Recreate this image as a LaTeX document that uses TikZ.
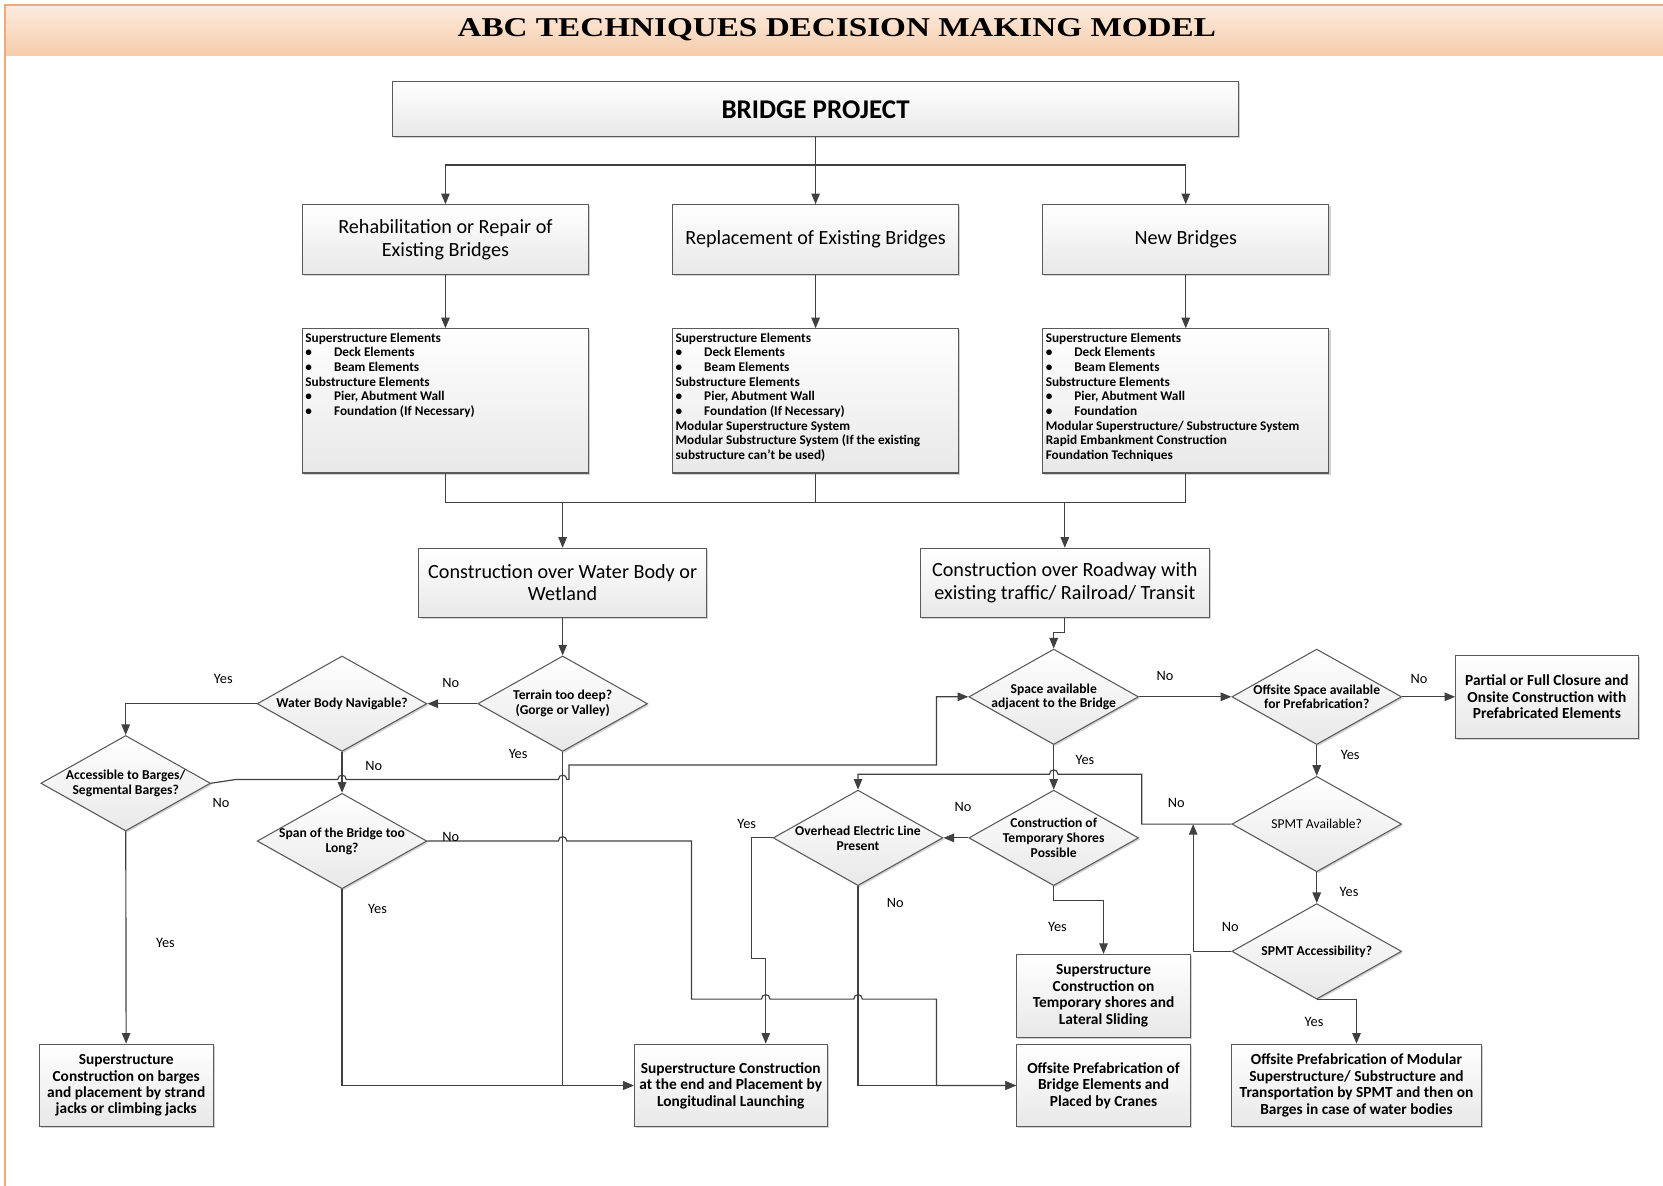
\documentclass[tikz,border=0pt]{standalone}
\usepackage{graphicx}
\usepackage{fontspec}
\setmainfont{Carlito}
\newfontfamily\titlefont{Liberation Serif}
\usetikzlibrary{shapes.geometric}
\usetikzlibrary{arrows.meta}
\usetikzlibrary{shadows}
\definecolor{linegray}{HTML}{404040}
\definecolor{boxgray}{HTML}{5A5A5A}
\definecolor{bandtop}{HTML}{FCEBDF}
\definecolor{bandbot}{HTML}{F7CDAB}
\definecolor{bandline}{HTML}{EFA97A}
\newcommand{\bul}[1]{\makebox[27pt][l]{\textbullet}#1}
\newcommand{\hop}[2]{-- (#1-4,#2) .. controls (#1-4,#2-5.5) and (#1+4,#2-5.5) .. (#1+4,#2)}
\newcommand{\hopl}[2]{-- (#1+4,#2) .. controls (#1+4,#2-5.5) and (#1-4,#2-5.5) .. (#1-4,#2)}

\begin{document}
\begin{tikzpicture}[x=1pt,y=-1pt,>={Triangle[length=10pt,width=8pt]},
		box/.style={draw=boxgray, line width=1pt, top color=white, bottom color=black!9,
			drop shadow={shadow xshift=1.5pt, shadow yshift=-1.5pt, fill=black!35, opacity=0.5},
			align=center, inner sep=2pt},
		catbox/.style={box, minimum width=270pt, minimum height=66pt, font=\fontsize{19}{21}\selectfont},
		listbox/.style={box, inner sep=3pt, font=\fontsize{12.5}{13.8}\selectfont\bfseries},
		endbox/.style={box, minimum height=78pt, font=\fontsize{14.5}{15.5}\selectfont\bfseries},
		dec/.style={diamond, aspect=1.78, draw=boxgray, line width=1pt, top color=white, bottom color=black!9,
			drop shadow={shadow xshift=1.5pt, shadow yshift=-1.5pt, fill=black!35, opacity=0.5},
			minimum width=160pt, minimum height=90pt, inner sep=-6pt, align=center,
			font=\fontsize{12.8}{14}\selectfont\bfseries},
		line/.style={draw=linegray, line width=1.1pt},
		arr/.style={line, ->},
		lbl/.style={font=\fontsize{13.5}{15}\selectfont, inner sep=1pt}]
			\useasboundingbox (0,0) rectangle (1568,1118);
			
			% draw title band
			\shade[top color=bandtop, bottom color=bandbot] (4.7,4.7) rectangle (1568,52);
			\draw[bandline, line width=1.5pt] (1568,4.7) -- (4.7,4.7) -- (4.7,1118);
			\node[font=\titlefont\bfseries] (title) at (789,28) {\resizebox{715pt}{17pt}{ABC TECHNIQUES DECISION MAKING MODEL}};
			
			% draw project and bridge types
			\node[box, minimum width=798pt, minimum height=52pt, font=\fontsize{25.5}{28}\selectfont\bfseries] (project) at (769,103) {BRIDGE PROJECT};
			\node[catbox] (rehab) at (420,226) {Rehabilitation or Repair of\\Existing Bridges};
			\node[catbox] (replace) at (769,226) {Replacement of Existing Bridges};
			\node[catbox] (newbr) at (1118,226) {New Bridges};
			
			% draw element lists
			\node[listbox] (rehabel) at (420,378) {\parbox[c][130pt][t]{264pt}{\vspace{1pt}Superstructure Elements\\
				\bul{Deck Elements}\\
				\bul{Beam Elements}\\
				Substructure Elements\\
				\bul{Pier, Abutment Wall}\\
				\bul{Foundation (If Necessary)}}};
			\node[listbox] (replel) at (769,378) {\parbox[c][130pt][t]{264pt}{\vspace{1pt}Superstructure Elements\\
				\bul{Deck Elements}\\
				\bul{Beam Elements}\\
				Substructure Elements\\
				\bul{Pier, Abutment Wall}\\
				\bul{Foundation (If Necessary)}\\
				Modular Superstructure System\\
				Modular Substructure System (If the existing\\
				substructure can’t be used)}};
			\node[listbox] (newel) at (1118,378) {\parbox[c][130pt][t]{264pt}{\vspace{1pt}Superstructure Elements\\
				\bul{Deck Elements}\\
				\bul{Beam Elements}\\
				Substructure Elements\\
				\bul{Pier, Abutment Wall}\\
				\bul{Foundation}\\
				Modular Superstructure/ Substructure System\\
				Rapid Embankment Construction\\
				Foundation Techniques}};
			
			% draw site types
			\node[catbox, minimum width=271pt, minimum height=65pt] (water) at (530.5,549.5) {Construction over Water Body or\\Wetland};
			\node[catbox, minimum width=272pt, minimum height=65pt] (road) at (1004,549.5) {Construction over Roadway with\\existing traffic/ Railroad/ Transit};
			
			% draw water decisions
			\node[dec] (terrain) at (530.5,663.5) {Terrain too deep?\\(Gorge or Valley)};
			\node[dec] (nav) at (322.5,663.5) {Water Body Navigable?};
			\node[dec] (access) at (118.5,738.5) {Accessible to Barges/\\Segmental Barges?};
			\node[dec] (span) at (322.5,793) {Span of the Bridge too\\Long?};
			
			% draw roadway decisions
			\node[dec] (space) at (993.5,657) {Space available\\adjacent to the Bridge};
			\node[dec] (offsp) at (1241.5,657) {Offsite Space available\\for Prefabrication?};
			\node[dec, font=\fontsize{12.8}{14}\selectfont] (spmtav) at (1241.5,777) {SPMT Available?};
			\node[dec] (spmtacc) at (1241.5,897) {SPMT Accessibility?};
			\node[dec] (shores) at (993.5,790) {Construction of\\Temporary Shores\\Possible};
			\node[dec] (overhead) at (809,790) {Overhead Electric Line\\Present};
			
			% draw techniques
			\node[endbox, minimum width=172pt] (partial) at (1458.5,657) {Partial or Full Closure and\\Onsite Construction with\\Prefabricated Elements};
			\node[endbox, minimum width=164pt] (barges) at (119,1023.5) {Superstructure\\Construction on barges\\and placement by strand\\jacks or climbing jacks};
			\node[endbox, minimum width=182pt] (launch) at (689,1023.5) {Superstructure Construction\\at the end and Placement by\\Longitudinal Launching};
			\node[endbox, minimum width=164pt] (tempbox) at (1040.5,939) {Superstructure\\Construction on\\Temporary shores and\\Lateral Sliding};
			\node[endbox, minimum width=164pt] (cranes) at (1040.5,1023.5) {Offsite Prefabrication of\\Bridge Elements and\\Placed by Cranes};
			\node[endbox, minimum width=236pt] (modular) at (1279,1023.5) {Offsite Prefabrication of Modular\\Superstructure/ Substructure and\\Transportation by SPMT and then on\\Barges in case of water bodies};
			
			% draw top connectors
			\draw[arr] (project.south) -- ++(0,26) -| (rehab.north);
			\draw[arr] (project.south) -- ++(0,26) -| (newbr.north);
			\draw[arr] (project) -- (replace);
			\draw[arr] (rehab) -- (rehabel);
			\draw[arr] (replace) -- (replel);
			\draw[arr] (newbr) -- (newel);
			\draw[line] (rehabel.south) -- ++(0,27) coordinate (merge) -- (newel.south |- merge) -- (newel.south);
			\draw[line] (replel.south) -- (replel.south |- merge);
			\draw[arr] (water.north |- merge) -- (water.north);
			\draw[arr] (road.north |- merge) -- (road.north);
			
			% draw water connectors
			\draw[arr] (water) -- (terrain);
			\draw[arr] (terrain) -- (nav);
			\draw[arr] (nav.west) -| (access.north);
			\draw[arr] (nav) -- (span);
			\draw[arr] (access) -- (barges);
			\draw[arr] (access.east) -- (222,735) \hop{322.5}{735} \hop{530.5}{735} -- (536.5,735) -- (536.5,721.3) -- (883,721.3) -- (883,657) -- (space.west);
			\draw[arr] (terrain.south) |- (launch.west);
			\draw[arr] (span.south) |- (launch.west);
			\draw[arr] (span.east) \hop{530.5}{793} -- (652,793) -- (652,942) \hop{722}{942} \hop{809}{942} -- (883,942) |- (cranes.west);
			
			% draw roadway connectors
			\draw[arr] (road.south) -- ++(0,13.5) -| (space.north);
			\draw[arr] (space) -- (offsp);
			\draw[arr] (offsp) -- (partial);
			\draw[arr] (offsp) -- (spmtav);
			\draw[arr] (spmtav) -- (spmtacc);
			\draw[arr] (spmtacc.south) -| (modular.north);
			\draw[arr] (spmtav.west) -- (1076.5,777) -- (1076.5,730) \hopl{993.5}{730} -| (overhead.north);
			\coordinate (accback) at (1125,777);
			\draw[arr] (spmtacc.west) -| (accback);
			\draw[arr] (space) -- (shores);
			\draw[arr] (shores) -- (overhead);
			\draw[arr] (shores.south) -- ++(0,13.5) -| (tempbox.north);
			\coordinate (ohdrop) at (722,903.6);
			\draw[arr] (overhead.west) -- (708.7,790) |- (ohdrop) -- (ohdrop |- launch.north);
			\draw[arr] (overhead.south) |- (cranes.west);
			
			% draw yes and no labels
			\node[lbl] (navyes) at (210.5,640.5) {Yes};
			\node[lbl] (terrno) at (425,644) {No};
			\node[lbl] (terryes) at (488.5,711) {Yes};
			\node[lbl] (navno) at (352.5,722) {No};
			\node[lbl] (accno) at (208.5,757.5) {No};
			\node[lbl] (spanno) at (425,789) {No};
			\node[lbl] (spanyes) at (356,857) {Yes};
			\node[lbl] (accyes) at (156,889) {Yes};
			\node[lbl] (spaceno) at (1098.5,637.5) {No};
			\node[lbl] (offno) at (1338,640.5) {No};
			\node[lbl] (offyes) at (1273,712) {Yes};
			\node[lbl] (spaceyes) at (1023,717) {Yes};
			\node[lbl] (spmtno) at (1109,757) {No};
			\node[lbl] (shoresno) at (908,760.5) {No};
			\node[lbl] (ohyes) at (704,777) {Yes};
			\node[lbl] (ohno) at (844,851) {No};
			\node[lbl] (spmtyes) at (1272,841) {Yes};
			\node[lbl] (spmtaccno) at (1160,874) {No};
			\node[lbl] (shoresyes) at (997,874) {Yes};
			\node[lbl] (spmtaccyes) at (1239,964) {Yes};
		\end{tikzpicture}
\end{document}
